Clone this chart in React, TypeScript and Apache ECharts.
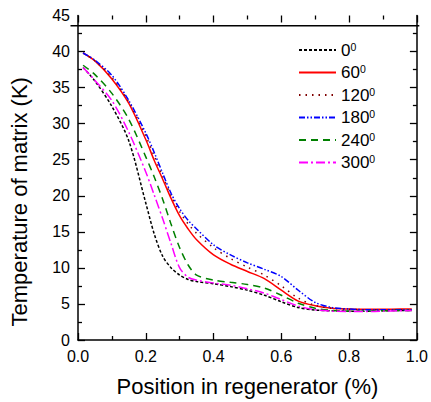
import React, { useEffect, useRef } from "react";
import * as echarts from "echarts";

const positions = [0.015, 0.05, 0.1, 0.15, 0.2, 0.225, 0.25, 0.275, 0.3, 0.325, 0.35, 0.4, 0.45, 0.5, 0.55, 0.6, 0.65, 0.7, 0.75, 0.8, 0.85, 0.9, 0.95, 0.985];

const temp0 = [37.8, 35.9, 32.4, 27.6, 19.0, 14.7, 11.6, 10.0, 9.0, 8.4, 8.1, 7.8, 7.4, 6.9, 6.2, 5.3, 4.5, 4.15, 4.05, 4.0, 4.0, 4.05, 4.1, 4.1];
const temp60 = [39.8, 38.7, 36.2, 32.8, 27.8, 24.9, 22.3, 19.6, 17.2, 15.4, 13.9, 11.8, 10.5, 9.5, 8.5, 6.9, 5.4, 4.75, 4.4, 4.3, 4.25, 4.25, 4.3, 4.3];
const temp120 = [39.8, 38.7, 36.4, 33.0, 28.3, 25.5, 22.7, 20.0, 17.8, 16.1, 14.8, 12.8, 11.3, 10.1, 9.0, 7.5, 5.8, 4.8, 4.4, 4.25, 4.2, 4.2, 4.2, 4.2];
const temp180 = [39.8, 38.8, 36.7, 33.2, 28.7, 26.0, 23.1, 20.3, 18.2, 16.6, 15.4, 13.2, 11.8, 10.7, 9.8, 8.8, 6.9, 5.2, 4.5, 4.3, 4.2, 4.2, 4.2, 4.2];
const temp240 = [38.1, 36.8, 34.2, 30.6, 25.4, 22.6, 19.5, 16.0, 12.8, 10.4, 9.0, 8.3, 8.0, 7.7, 7.2, 6.2, 5.1, 4.4, 4.1, 4.0, 4.0, 4.05, 4.1, 4.1];
const temp300 = [37.8, 36.0, 33.2, 28.8, 23.3, 20.1, 16.8, 13.3, 10.0, 8.7, 8.3, 7.9, 7.6, 7.1, 6.5, 5.6, 4.7, 4.2, 4.0, 3.95, 3.95, 4.0, 4.05, 4.1];

const angleNames = ["0", "60", "120", "180", "240", "300"];
const seriesValues = [temp0, temp60, temp120, temp180, temp240, temp300];
const seriesColors = ["#000000", "#ff0000", "#800000", "#0000ff", "#008000", "#ff00ff"];
const seriesDashes: (number[] | "solid")[] = [
  [3, 2],
  "solid",
  [1.5, 5],
  [6, 2, 1.5, 2, 1.5, 2],
  [7, 5],
  [9, 3, 2, 3],
];

const yTickValues = [0, 5, 10, 15, 20, 25, 30, 35, 40];
const yLabelValues = [0, 5, 10, 15, 20, 25, 30, 35, 40, 45];

const FONT = "'Liberation Sans', Arial, sans-serif";

export default function App() {
  const ref = useRef<HTMLDivElement>(null);
  useEffect(() => {
    const chart = echarts.init(ref.current!, null, { renderer: "svg" });
    const gridLeft = 70.5;
    const gridRight = 11.7;
    const gridTop = 15.5;
    const gridBottom = 60.5;
    const tickStyle = { color: "#000", width: 1.3 };
    const option: any = {
      animation: false,
      backgroundColor: "#fff",
      textStyle: { fontFamily: FONT },
      grid: { left: gridLeft, right: gridRight, top: gridTop, bottom: gridBottom, containLabel: false },
      legend: {
        orient: "vertical",
        left: 293,
        top: 36,
        itemWidth: 37,
        itemHeight: 14,
        itemGap: 5,
        data: angleNames,
        itemStyle: { opacity: 0 },
        formatter: (name: string) => `{n|${name}}{s|0}`,
        textStyle: {
          fontFamily: FONT,
          color: "#000",
          rich: {
            n: { fontSize: 17, fontFamily: FONT, color: "#000", lineHeight: 18 },
            s: { fontSize: 10.5, fontFamily: FONT, color: "#000", verticalAlign: "top", lineHeight: 10 },
          },
        },
      },
      xAxis: [
        {
          type: "value",
          min: 0,
          max: 1,
          interval: 0.2,
          position: "bottom",
          name: "Position in regenerator (%)",
          nameLocation: "middle",
          nameGap: 35,
          nameTextStyle: { fontSize: 22, fontFamily: FONT, color: "#000" },
          axisLine: { show: true, onZero: false, lineStyle: { color: "#000", width: 1.5 } },
          axisTick: { show: true, inside: true, length: 7, lineStyle: tickStyle },
          minorTick: { show: true, splitNumber: 2, length: 4, lineStyle: tickStyle },
          axisLabel: {
            fontSize: 16,
            fontFamily: FONT,
            color: "#000",
            margin: 8,
            formatter: (v: number) => v.toFixed(1),
          },
          splitLine: { show: false },
          minorSplitLine: { show: false },
        },
        {
          type: "value",
          min: 0,
          max: 1,
          interval: 0.2,
          position: "top",
          axisLine: { show: false, onZero: false },
          axisTick: { show: true, inside: true, length: 7, lineStyle: tickStyle },
          minorTick: { show: true, splitNumber: 2, length: 4, lineStyle: tickStyle },
          axisLabel: { show: false },
          splitLine: { show: false },
        },
      ],
      yAxis: [
        {
          type: "value",
          min: 0,
          max: 45,
          interval: 5,
          position: "left",
          name: "Temperature of matrix (K)",
          nameLocation: "middle",
          nameGap: 48,
          nameTextStyle: { fontSize: 22, fontFamily: FONT, color: "#000", padding: [0, 48, 0, 0] },
          axisLine: { show: true, onZero: false, lineStyle: { color: "#000", width: 1.5 } },
          axisTick: { show: true, inside: true, length: 7, lineStyle: tickStyle, customValues: yTickValues },
          minorTick: { show: true, splitNumber: 2, length: 4, lineStyle: tickStyle },
          axisLabel: { fontSize: 16, fontFamily: FONT, color: "#000", margin: 8, customValues: yLabelValues },
          splitLine: { show: false },
        },
        {
          type: "value",
          min: 0,
          max: 45,
          interval: 5,
          position: "right",
          axisLine: { show: true, onZero: false, lineStyle: { color: "#000", width: 1.5 } },
          axisTick: { show: true, inside: true, length: 7, lineStyle: tickStyle, customValues: yTickValues },
          minorTick: { show: true, splitNumber: 2, length: 4, lineStyle: tickStyle },
          axisLabel: { show: false },
          splitLine: { show: false },
        },
      ],
      graphic: [
        {
          type: "line",
          silent: true,
          shape: { x1: gridLeft, y1: 25.7, x2: 431 - gridRight, y2: 25.7 },
          style: { stroke: "#000", lineWidth: 1.6 },
          z: 10,
        },
      ],
      series: angleNames.map((name, k) => ({
        name,
        type: "line",
        xAxisIndex: 0,
        yAxisIndex: 0,
        data: positions.map((x, i) => [x, seriesValues[k][i]]),
        symbol: "none",
        showSymbol: false,
        smooth: 0.3,
        lineStyle: { color: seriesColors[k], width: 1.5, type: seriesDashes[k] },
        itemStyle: { color: seriesColors[k] },
      })),
    };
    chart.setOption(option);
    return () => chart.dispose();
  }, []);
  return (
    <div
      ref={ref}
      style={{ position: "fixed", left: 0, top: 0, width: 431, height: 402, background: "#fff" }}
    />
  );
}
